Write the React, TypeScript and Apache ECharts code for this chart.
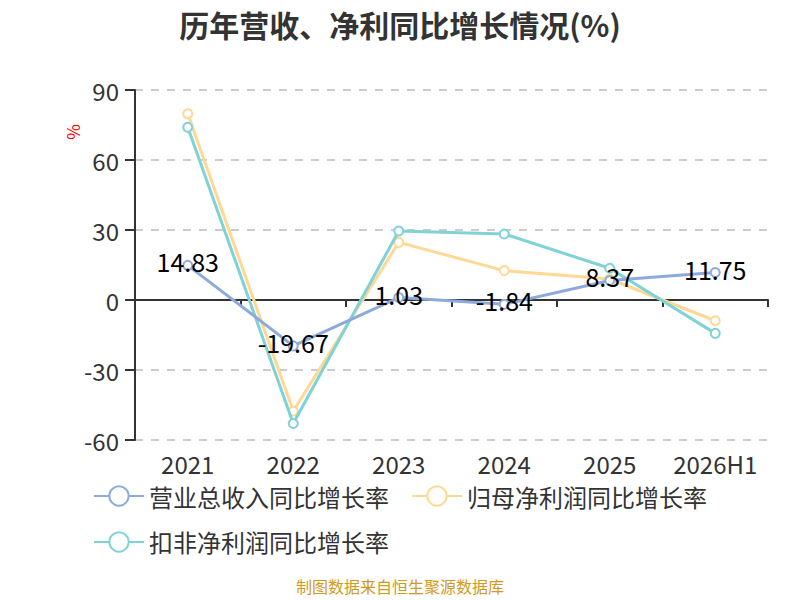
import React, { useEffect, useRef } from "react";
import * as echarts from "echarts";

const categories = ["2021", "2022", "2023", "2024", "2025", "2026H1"];
const revenueGrowth = [14.83, -19.67, 1.03, -1.84, 8.37, 11.75];
const netProfitGrowth = [79.8, -47.6, 24.7, 12.6, 9.0, -8.9];
const deductedProfitGrowth = [74.0, -52.9, 29.6, 28.3, 13.6, -14.3];
const seriesNames = ["营业总收入同比增长率", "归母净利润同比增长率", "扣非净利润同比增长率"];
const colors = ["#8eaadc", "#ffd894", "#7fd3d6"];

const FONT = "'Noto Sans CJK SC', 'Noto Sans', sans-serif";

export default function App() {
  const ref = useRef<HTMLDivElement>(null);
  useEffect(() => {
    document.body.style.margin = "0";
    if (!ref.current) return;
    const chart = echarts.init(ref.current, undefined, { renderer: "svg" });
    const mk = (name: string, data: number[], color: string, showLabel: boolean, z: number) => ({
      name,
      type: "line",
      data,
      z,
      symbol: "emptyCircle",
      symbolSize: 9,
      lineStyle: { width: 3, color },
      itemStyle: { color, borderWidth: 2 },
      label: showLabel
        ? { show: true, position: "inside", offset: [0, -4], color: "#000", fontSize: 25, fontFamily: FONT }
        : { show: false },
    });
    chart.setOption({
      animation: false,
      textStyle: { fontFamily: FONT },
      title: {
        text: "历年营收、净利同比增长情况(%)",
        left: "center",
        top: 4,
        textStyle: { fontSize: 30, fontWeight: "bold", color: "#333", fontFamily: FONT },
      },
      color: colors,
      grid: { left: 135, right: 32, top: 90, bottom: 160, containLabel: false },
      legend: {
        data: seriesNames,
        left: 88,
        top: 479,
        width: 660,
        itemWidth: 50,
        itemHeight: 24,
        itemGap: 22,
        textStyle: { fontSize: 24, color: "#333", fontFamily: FONT },
      },
      xAxis: [
        {
          type: "category",
          data: categories,
          boundaryGap: true,
          axisLine: { onZero: true, lineStyle: { color: "#333", width: 2 } },
          axisTick: { show: true, length: 7, lineStyle: { color: "#333", width: 2 } },
          axisLabel: { show: false },
        },
        {
          type: "category",
          data: categories,
          position: "bottom",
          boundaryGap: true,
          axisLine: { show: false, onZero: false },
          axisTick: { show: false },
          axisLabel: { show: true, interval: 0, fontSize: 24, color: "#333", margin: 11, fontFamily: FONT },
        },
      ],
      yAxis: {
        type: "value",
        min: -60,
        max: 90,
        interval: 30,
        axisLine: { show: true, lineStyle: { color: "#333", width: 2 } },
        axisTick: { show: true, length: 10, lineStyle: { color: "#333", width: 2 } },
        axisLabel: { fontSize: 24, color: "#333", margin: 16, fontFamily: FONT },
        splitLine: { show: true, lineStyle: { type: [8, 8], color: "#ccc", width: 2 } },
      },
      graphic: [
        {
          type: "text",
          x: 72,
          y: 132,
          rotation: Math.PI / 2,
          style: { text: "%", fill: "#ff0000", fontSize: 17, fontFamily: FONT, align: "center", verticalAlign: "middle" },
        },
        {
          type: "text",
          left: "center",
          top: 578,
          style: { text: "制图数据来自恒生聚源数据库", fill: "#cf9a22", fontSize: 16, fontFamily: FONT },
        },
      ],
      series: [
        mk(seriesNames[1], netProfitGrowth, colors[1], false, 2),
        mk(seriesNames[2], deductedProfitGrowth, colors[2], false, 3),
        mk(seriesNames[0], revenueGrowth, colors[0], true, 4),
      ],
    });
    return () => chart.dispose();
  }, []);
  return <div ref={ref} style={{ width: 800, height: 600 }} />;
}
